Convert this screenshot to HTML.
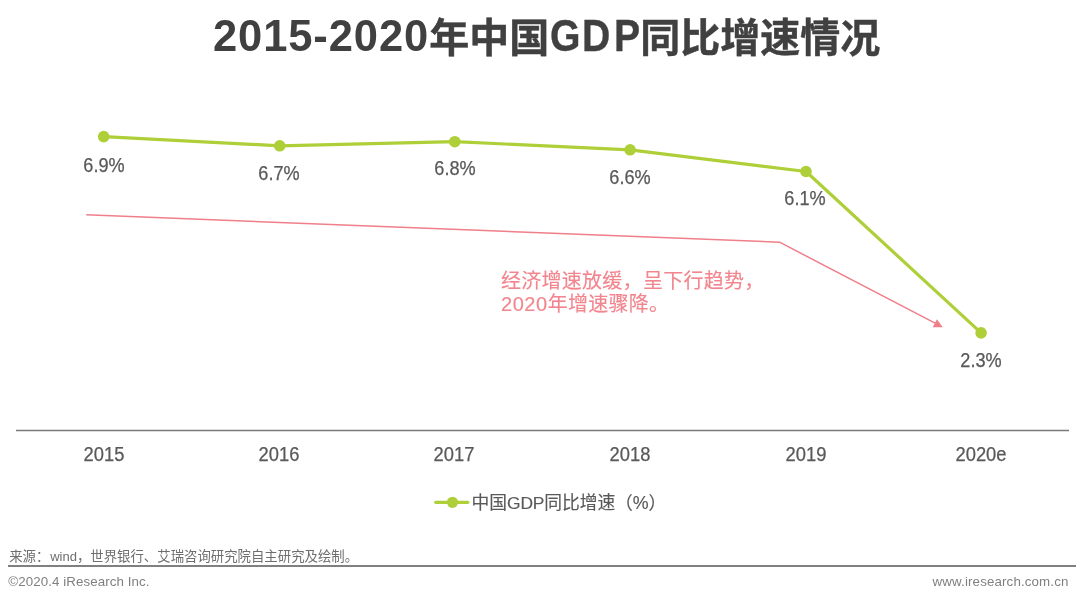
<!DOCTYPE html>
<html lang="zh-CN">
<head>
<meta charset="utf-8">
<title>2015-2020年中国GDP同比增速情况</title>
<style>
  html, body { margin: 0; padding: 0; background: #ffffff; }
  body { width: 1080px; height: 601px; position: relative; overflow: hidden;
         font-family: "Liberation Sans", "Noto Sans CJK SC", sans-serif; }
  .abs { position: absolute; white-space: nowrap; line-height: 1; }
  .lat { display: inline-block; transform-origin: 0 50%; }

  /* title */
  #title { left: 0; top: 0; width: 1080px; height: 70px; font-weight: bold; color: #404040; }
  #title span { position: absolute; white-space: nowrap; line-height: 1; }
  #title .cjk { font-size: 40px; top: 18px; -webkit-text-stroke: 0.45px #404040; }
  #title .num { font-size: 43.5px; top: 14.6px; }

  /* chart */
  #chart { position: absolute; left: 0; top: 0; width: 1080px; height: 601px; }
  .dl { font-size: 19.5px; color: #595959; transform: translateX(-50%) scaleX(0.93); -webkit-text-stroke: 0.25px #595959; }
  .ax { font-size: 19.5px; color: #595959; transform: translateX(-50%) scaleX(0.94); -webkit-text-stroke: 0.25px #595959; }

  #note { left: 501px; top: 269.8px; font-size: 20px; line-height: 23.5px; letter-spacing: 0.27px; color: #f2868f; white-space: nowrap; -webkit-text-stroke: 0.15px #f2868f; }
  #note .n { letter-spacing: 0.55px; }
  #legend { left: 471.6px; top: 495px; font-size: 17.8px; letter-spacing: -0.1px; color: #595959; -webkit-text-stroke: 0.15px #595959; }
  #legend .g { font-size: 17.4px; letter-spacing: -0.1px; }

  #source { left: 9.2px; top: 549.5px; font-size: 13.4px; color: #6e6e6e; }
  #source .w { font-size: 13px; margin-left: 0.8px; }
  #copy { left: 8.3px; top: 574.6px; font-size: 13.33px; letter-spacing: 0.085px; color: #808080; }
  #url { right: 11.5px; top: 574.6px; font-size: 13.33px; letter-spacing: 0.13px; color: #808080; }
  #rule { position: absolute; left: 8px; top: 565.2px; width: 1068px; height: 1.6px; background: #808080; }
</style>
</head>
<body>

<div id="title" class="abs"><span class="num" style="left:213px; letter-spacing:0.9px;">2015-2020</span><span class="cjk" style="left:429.3px;">年中国</span><span class="num lat" style="left:550px; transform:scaleX(0.9); -webkit-text-stroke:0.35px #404040;"><span style="position:static; letter-spacing:1.6px;">G</span><span style="position:static; letter-spacing:4.2px;">D</span>P</span><span class="cjk" style="left:640.2px;">同比增速情况</span></div>

<svg id="chart" width="1080" height="601" viewBox="0 0 1080 601">
  <!-- category axis -->
  <line x1="16" y1="430.5" x2="1069" y2="430.5" stroke="#7a7a7a" stroke-width="1.4"/>
  <!-- trend arrow -->
  <polyline points="86.2,214.75 779.6,242.2 937,324.2" fill="none" stroke="#ef7f89" stroke-width="1.5" stroke-linejoin="round"/>
  <polygon points="942.8,327.3 932.74,327.13 936.9,319.15" fill="#f0808a"/>
  <!-- series -->
  <polyline points="103.7,136.6 279.7,145.8 454.8,141.7 630.1,149.8 806,171.5 981.1,332.9" fill="none" stroke="#afcf38" stroke-width="3.2" stroke-linejoin="round" stroke-linecap="round"/>
  <g fill="#afcf38">
    <circle cx="103.7" cy="136.6" r="5.8"/>
    <circle cx="279.7" cy="145.8" r="5.8"/>
    <circle cx="454.8" cy="141.7" r="5.8"/>
    <circle cx="630.1" cy="149.8" r="5.8"/>
    <circle cx="806" cy="171.5" r="5.8"/>
    <circle cx="981.1" cy="332.9" r="5.8"/>
  </g>
  <!-- legend key -->
  <line x1="435.8" y1="502.3" x2="467.8" y2="502.3" stroke="#afcf38" stroke-width="3.2" stroke-linecap="round"/>
  <circle cx="452.5" cy="502.3" r="5.6" fill="#afcf38"/>
</svg>

<div class="abs dl" style="left:103.7px; top:155.6px;">6.9%</div>
<div class="abs dl" style="left:279.3px; top:164.2px;">6.7%</div>
<div class="abs dl" style="left:454.5px; top:159.4px;">6.8%</div>
<div class="abs dl" style="left:630.1px; top:168.0px;">6.6%</div>
<div class="abs dl" style="left:805.4px; top:188.8px;">6.1%</div>
<div class="abs dl" style="left:980.8px; top:350.5px;">2.3%</div>

<div class="abs ax" style="left:103.5px; top:444.9px;">2015</div>
<div class="abs ax" style="left:278.9px; top:444.9px;">2016</div>
<div class="abs ax" style="left:454.4px; top:444.9px;">2017</div>
<div class="abs ax" style="left:630.0px; top:444.9px;">2018</div>
<div class="abs ax" style="left:805.5px; top:444.9px;">2019</div>
<div class="abs ax" style="left:980.6px; top:444.9px;">2020e</div>

<div id="note" class="abs">经济增速放缓，呈下行趋势，<br><span class="n">2020</span>年增速骤降。</div>

<div id="legend" class="abs">中国<span class="g">GDP</span>同比增速（%）</div>

<div id="source" class="abs">来源：<span class="w">wind</span>，世界银行、艾瑞咨询研究院自主研究及绘制。</div>
<div id="rule"></div>
<div id="copy" class="abs">©2020.4 iResearch Inc.</div>
<div id="url" class="abs">www.iresearch.com.cn</div>

</body>
</html>
